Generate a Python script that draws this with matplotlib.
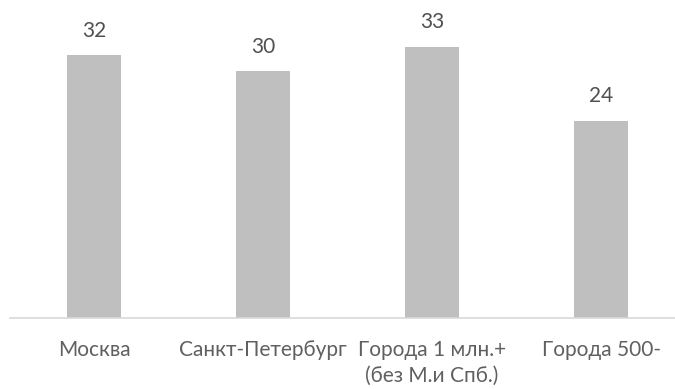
import matplotlib.pyplot as plt
import numpy as np

categories = ["Москва", "Санкт-Петербург", "Города 1 млн.+\n(без М.и Спб.)", "Города 500-"]
values = [32, 30, 33, 24]

plt.rcParams.update({
    "font.family": ["Lato", "DejaVu Sans"],
    "text.color": "#595959",
})

fig = plt.figure(figsize=(6.75, 3.89), dpi=100)
ax = fig.add_axes([9.5 / 675, 71 / 389, 676 / 675, 318 / 389])

x = np.arange(len(categories))
bars = ax.bar(x, values, width=0.32, color="#BFBFBF", zorder=2)

for xi, v in zip(x, values):
    ax.text(xi, v + 1.75, str(v), ha="center", va="bottom", fontsize=15,
            color="#505050")

ax.set_xlim(-0.5, len(categories) - 0.5)
ax.set_ylim(0, 318 / 8.22)

for side in ["top", "left", "right"]:
    ax.spines[side].set_visible(False)
ax.spines["bottom"].set_color("#D9D9D9")
ax.spines["bottom"].set_linewidth(1.2)

ax.set_yticks([])
ax.set_xticks(x)
ax.set_xticklabels(categories, fontsize=15, color="#606060", linespacing=1.35,
                   va="top")
ax.tick_params(axis="x", length=0, pad=16)

fig.savefig("out.png", dpi=100)
